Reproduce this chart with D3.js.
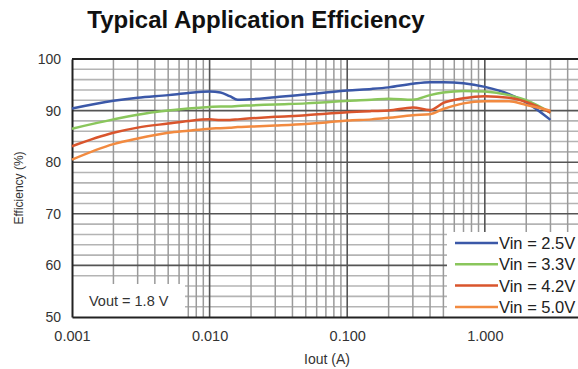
<!DOCTYPE html>
<html>
<head>
<meta charset="utf-8">
<script src="https://cdn.jsdelivr.net/npm/d3@7"></script>
<style>
  body { margin: 0; background: #fff; }
  text { font-family: "Liberation Sans", Arial, sans-serif; }
</style>
</head>
<body>
<div id="chart"></div>
<script>
const WIDTH = 578;
const HEIGHT = 369;
const PLOT = { LEFT: 72, TOP: 59, RIGHT: 581, BOTTOM: 317 };

// load current (A)
const iout = [0.001, 0.002, 0.003, 0.005, 0.007, 0.01, 0.012, 0.014, 0.016, 0.02, 0.03, 0.05,
              0.07, 0.1, 0.15, 0.2, 0.3, 0.4, 0.5, 0.7, 1, 1.5, 2, 3];
// efficiency (%) per input voltage
const eff25 = [90.4, 91.9, 92.5, 93.0, 93.4, 93.7, 93.5, 92.8, 92.1, 92.2, 92.6, 93.1,
               93.5, 93.9, 94.2, 94.5, 95.2, 95.5, 95.5, 95.3, 94.6, 93.2, 91.6, 88.2];
const eff33 = [86.5, 88.3, 89.2, 90.0, 90.4, 90.7, 90.8, 90.8, 90.9, 91.0, 91.2, 91.4,
               91.6, 91.9, 92.1, 92.3, 92.1, 93.0, 93.5, 93.8, 93.7, 93.0, 92.0, 89.6];
const eff42 = [83.1, 85.7, 86.7, 87.5, 88.0, 88.3, 88.2, 88.2, 88.3, 88.5, 88.8, 89.1,
               89.4, 89.7, 89.9, 90.0, 90.6, 90.1, 91.5, 92.4, 92.8, 92.5, 91.7, 89.6];
const eff50 = [80.5, 83.5, 84.6, 85.7, 86.1, 86.5, 86.6, 86.7, 86.8, 86.9, 87.1, 87.4,
               87.7, 88.1, 88.3, 88.6, 89.1, 89.3, 90.3, 91.4, 91.8, 91.8, 91.1, 90.0];

const seriesNames = ["Vin = 2.5V", "Vin = 3.3V", "Vin = 4.2V", "Vin = 5.0V"];
const seriesColors = ["#3b58a8", "#8ac65c", "#d9552d", "#f28a40"];
const xTickValues = [0.001, 0.01, 0.1, 1];
const xTickLabels = ["0.001", "0.010", "0.100", "1.000"];
const yTickValues = [50, 60, 70, 80, 90, 100];

const series = [eff25, eff33, eff42, eff50].map((vals, i) => ({
    name: seriesNames[i],
    color: seriesColors[i],
    points: iout.map((d, j) => [d, vals[j]])
}));

var svg = d3.select("div#chart").append("svg")
    .attr("width", WIDTH)
    .attr("height", HEIGHT);

var x = d3.scaleLog([0.001, 5], [PLOT.LEFT, PLOT.RIGHT]);
var y = d3.scaleLinear([50, 100], [PLOT.BOTTOM, PLOT.TOP]);

// title
svg.append("text")
    .attr("x", 256)
    .attr("y", 28)
    .attr("text-anchor", "middle")
    .style("font-size", "24px")
    .style("font-weight", "bold")
    .attr("fill", "#111")
    .text("Typical Application Efficiency");

// grid
var grid = svg.append("g").attr("class", "grid");

var minorY = d3.range(50, 100.1, 2).filter(d => d % 10 !== 0);
grid.selectAll("line.hminor").data(minorY)
    .join("line")
    .attr("class", "hminor")
    .attr("x1", PLOT.LEFT).attr("x2", PLOT.RIGHT)
    .attr("y1", d => y(d)).attr("y2", d => y(d))
    .attr("stroke", "#b4b4b4")
    .attr("stroke-width", 1.6);

var minorX = [];
[0.001, 0.01, 0.1, 1].forEach(dec => {
    for (let k = 2; k <= 9; k++) if (dec * k <= 5) minorX.push(dec * k);
});
grid.selectAll("line.vminor").data(minorX)
    .join("line")
    .attr("class", "vminor")
    .attr("x1", d => x(d)).attr("x2", d => x(d))
    .attr("y1", PLOT.TOP).attr("y2", PLOT.BOTTOM)
    .attr("stroke", "#9a9a9a")
    .attr("stroke-width", 1.5);

grid.selectAll("line.hmajor").data(yTickValues.slice(1, -1))
    .join("line")
    .attr("class", "hmajor")
    .attr("x1", PLOT.LEFT).attr("x2", PLOT.RIGHT)
    .attr("y1", d => y(d)).attr("y2", d => y(d))
    .attr("stroke", "#555")
    .attr("stroke-width", 1.6);

grid.selectAll("line.vmajor").data(xTickValues.slice(1))
    .join("line")
    .attr("class", "vmajor")
    .attr("x1", d => x(d)).attr("x2", d => x(d))
    .attr("y1", PLOT.TOP).attr("y2", PLOT.BOTTOM)
    .attr("stroke", "#555")
    .attr("stroke-width", 1.6);

// Vout note box (hides grid below it)
svg.append("rect")
    .attr("x", PLOT.LEFT).attr("y", 284)
    .attr("width", 113).attr("height", PLOT.BOTTOM - 284)
    .attr("fill", "#fff");
svg.append("text")
    .attr("x", 89).attr("y", 306)
    .style("font-size", "14.5px")
    .attr("fill", "#333")
    .text("Vout = 1.8 V");

// legend box
svg.append("rect")
    .attr("x", 447).attr("y", 232)
    .attr("width", WIDTH - 447).attr("height", PLOT.BOTTOM - 232)
    .attr("fill", "#fff");

// frame
svg.append("line")
    .attr("x1", PLOT.LEFT).attr("x2", PLOT.RIGHT)
    .attr("y1", PLOT.TOP).attr("y2", PLOT.TOP)
    .attr("stroke", "#222").attr("stroke-width", 2);

// axes
svg.append("g")
    .attr("class", "x-axis")
    .attr("transform", `translate(0,${PLOT.BOTTOM})`)
    .call(d3.axisBottom(x)
        .tickValues(xTickValues)
        .tickFormat((d, i) => xTickLabels[i])
        .tickSize(0)
        .tickPadding(14))
    .call(g => g.select(".domain").attr("stroke", "#222").attr("stroke-width", 2))
    .call(g => g.selectAll("text").style("font-size", "14.5px").attr("fill", "#333").attr("font-family", null));

svg.append("g")
    .attr("class", "y-axis")
    .attr("transform", `translate(${PLOT.LEFT},0)`)
    .call(d3.axisLeft(y)
        .tickValues(yTickValues)
        .tickSize(0)
        .tickPadding(11))
    .call(g => g.select(".domain").attr("stroke", "#222").attr("stroke-width", 2))
    .call(g => g.selectAll("text").style("font-size", "14px").attr("fill", "#333").attr("font-family", null));

// axis titles
svg.append("text")
    .attr("x", 327).attr("y", 364)
    .attr("text-anchor", "middle")
    .style("font-size", "14px")
    .attr("fill", "#333")
    .text("Iout (A)");

svg.append("text")
    .attr("transform", "translate(23,188) rotate(-90)")
    .attr("text-anchor", "middle")
    .style("font-size", "12px")
    .attr("fill", "#333")
    .text("Efficiency (%)");

// curves
const lineFunc = d3.line()
    .x(d => x(d[0]))
    .y(d => y(d[1]))
    .curve(d3.curveMonotoneX);

svg.append("g").attr("class", "line-container")
    .attr("fill", "none")
    .attr("stroke-width", 2.5)
    .selectAll("path").data(series)
    .join("path")
    .attr("stroke", d => d.color)
    .attr("d", d => lineFunc(d.points));

// legend entries
var legend = svg.append("g").attr("class", "legend");
var entry = legend.selectAll("g").data(series)
    .join("g")
    .attr("transform", (d, i) => `translate(0,${243 + i * 21.3})`);
entry.append("line")
    .attr("x1", 455).attr("x2", 498)
    .attr("stroke", d => d.color)
    .attr("stroke-width", 2.5);
entry.append("text")
    .attr("x", 499).attr("y", 6)
    .style("font-size", "16.5px")
    .attr("fill", "#222")
    .text(d => d.name);
</script>
</body>
</html>
